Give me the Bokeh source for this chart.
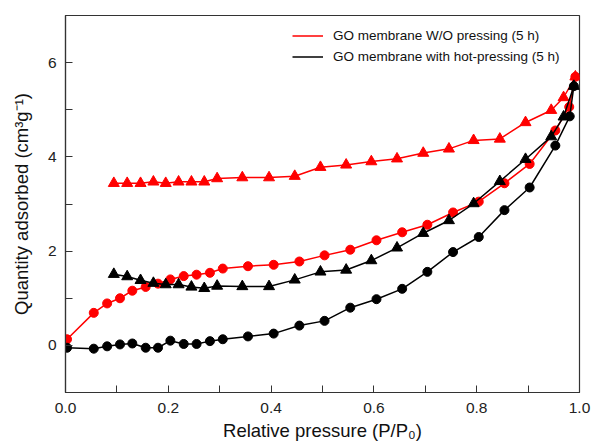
from bokeh.plotting import figure
from bokeh.models import FixedTicker, Legend, LegendItem, Range1d
from bokeh.embed import file_html
from bokeh.resources import INLINE

# Data
wo_ads_x = [0.003, 0.055, 0.081, 0.106, 0.130, 0.156, 0.180, 0.204, 0.230, 0.255, 0.281, 0.306,
            0.355, 0.405, 0.455, 0.504, 0.554, 0.605, 0.655, 0.704, 0.754, 0.804, 0.854, 0.903,
            0.953, 0.980, 0.992]
wo_ads_y = [0.13, 0.69, 0.89, 1.00, 1.16, 1.24, 1.31, 1.40, 1.47, 1.50, 1.54, 1.63,
            1.68, 1.71, 1.78, 1.91, 2.03, 2.23, 2.40, 2.56, 2.82, 3.05, 3.44, 3.85,
            4.56, 5.06, 5.70]
wo_des_x = [0.992, 0.969, 0.945, 0.895, 0.845, 0.794, 0.746, 0.696, 0.645, 0.595, 0.546, 0.496,
            0.446, 0.396, 0.344, 0.295, 0.270, 0.245, 0.220, 0.195, 0.171, 0.146, 0.120, 0.094]
wo_des_y = [5.70, 5.26, 4.99, 4.73, 4.38, 4.35, 4.17, 4.08, 3.96, 3.90, 3.83, 3.78,
            3.59, 3.56, 3.56, 3.54, 3.47, 3.47, 3.47, 3.44, 3.47, 3.44, 3.44, 3.44]

hp_ads_x = [0.003, 0.055, 0.081, 0.106, 0.130, 0.156, 0.180, 0.204, 0.230, 0.255, 0.281, 0.306,
            0.355, 0.405, 0.455, 0.504, 0.554, 0.605, 0.655, 0.704, 0.754, 0.804, 0.854, 0.903,
            0.953, 0.981, 0.989]
hp_ads_y = [-0.05, -0.07, -0.02, 0.02, 0.04, -0.05, -0.05, 0.10, 0.03, 0.03, 0.09, 0.13,
            0.19, 0.25, 0.42, 0.52, 0.80, 0.98, 1.20, 1.56, 1.98, 2.30, 2.87, 3.35,
            4.24, 4.86, 5.50]
hp_des_x = [0.989, 0.969, 0.945, 0.895, 0.845, 0.794, 0.746, 0.696, 0.645, 0.595, 0.546, 0.496,
            0.446, 0.396, 0.344, 0.295, 0.270, 0.245, 0.220, 0.195, 0.171, 0.146, 0.120, 0.094]
hp_des_y = [5.50, 4.85, 4.43, 3.95, 3.48, 3.01, 2.65, 2.38, 2.07, 1.80, 1.60, 1.56,
            1.39, 1.25, 1.25, 1.26, 1.21, 1.24, 1.29, 1.29, 1.32, 1.38, 1.46, 1.51]

x_major = [0.0, 0.2, 0.4, 0.6, 0.8, 1.0]
x_minor = [0.1, 0.3, 0.5, 0.7, 0.9]
y_major = [0, 2, 4, 6]
y_minor = [-1, 1, 3, 5, 7]

labels = ["GO membrane W/O pressing (5 h)", "GO membrane with hot-pressing (5 h)"]

FONT = "Liberation Sans"

p = figure(width=592, height=443, output_backend="svg", toolbar_location=None,
           x_range=Range1d(0, 1.0), y_range=Range1d(-1, 7))
p.min_border_left = 65
p.min_border_right = 13
p.min_border_top = 15
p.min_border_bottom = 51
p.background_fill_color = "white"
p.border_fill_color = "white"
p.outline_line_color = "#333333"
p.outline_line_width = 1.2
p.grid.visible = False

for ax in (p.xaxis[0], p.yaxis[0]):
    ax.axis_line_color = "#333333"
    ax.axis_line_width = 1.2
    ax.major_tick_in = 7
    ax.major_tick_out = 0
    ax.minor_tick_in = 7
    ax.minor_tick_out = 0
    ax.major_tick_line_color = "#333333"
    ax.minor_tick_line_color = "#333333"
    ax.major_label_text_font = FONT
    ax.major_label_text_font_size = "15.5px"
    ax.major_label_text_color = "#222222"
    ax.axis_label_text_font = FONT
    ax.axis_label_text_font_size = "18.5px"
    ax.axis_label_text_font_style = "normal"
    ax.axis_label_text_color = "#111111"

p.xaxis.ticker = FixedTicker(ticks=x_major, minor_ticks=x_minor)
p.yaxis.ticker = FixedTicker(ticks=y_major, minor_ticks=y_minor)
p.xaxis.major_label_overrides = {0.0: "0.0", 0.2: "0.2", 0.4: "0.4", 0.6: "0.6", 0.8: "0.8", 1.0: "1.0"}
p.xaxis.major_label_standoff = 10
p.yaxis.major_label_standoff = 9
p.xaxis.axis_label = "Relative pressure (P/P\u2080)"
p.yaxis.axis_label = "Quantity adsorbed (cm\u00b3g\u207b\u00b9)"
p.xaxis.axis_label_standoff = 4
p.yaxis.axis_label_standoff = 13

red = "#ff0000"
black = "#000000"
lw = 1.5

r1 = p.line(wo_ads_x, wo_ads_y, line_color=red, line_width=lw)
p.scatter(wo_ads_x, wo_ads_y, marker="circle", size=9, fill_color=red, line_color=red)
p.line(wo_des_x, wo_des_y, line_color=red, line_width=lw)
p.scatter(wo_des_x, wo_des_y, marker="triangle", size=11, fill_color=red, line_color=red)

r2 = p.line(hp_ads_x, hp_ads_y, line_color=black, line_width=lw)
p.scatter(hp_ads_x, hp_ads_y, marker="circle", size=9, fill_color=black, line_color=black)
p.line(hp_des_x, hp_des_y, line_color=black, line_width=lw)
p.scatter(hp_des_x, hp_des_y, marker="triangle", size=11, fill_color=black, line_color=black)

legend = Legend(items=[LegendItem(label=labels[0], renderers=[r1]),
                       LegendItem(label=labels[1], renderers=[r2])],
                location=(227, 325))
legend.border_line_color = None
legend.background_fill_alpha = 0
legend.padding = 0
legend.margin = 0
legend.spacing = 0
legend.glyph_width = 31
legend.glyph_height = 21
legend.label_height = 21
legend.label_standoff = 10
legend.label_text_font = FONT
legend.label_text_font_size = "13.5px"
legend.label_text_color = "#111111"
p.add_layout(legend, "center")

open("out.html", "w").write(file_html(p, INLINE))
